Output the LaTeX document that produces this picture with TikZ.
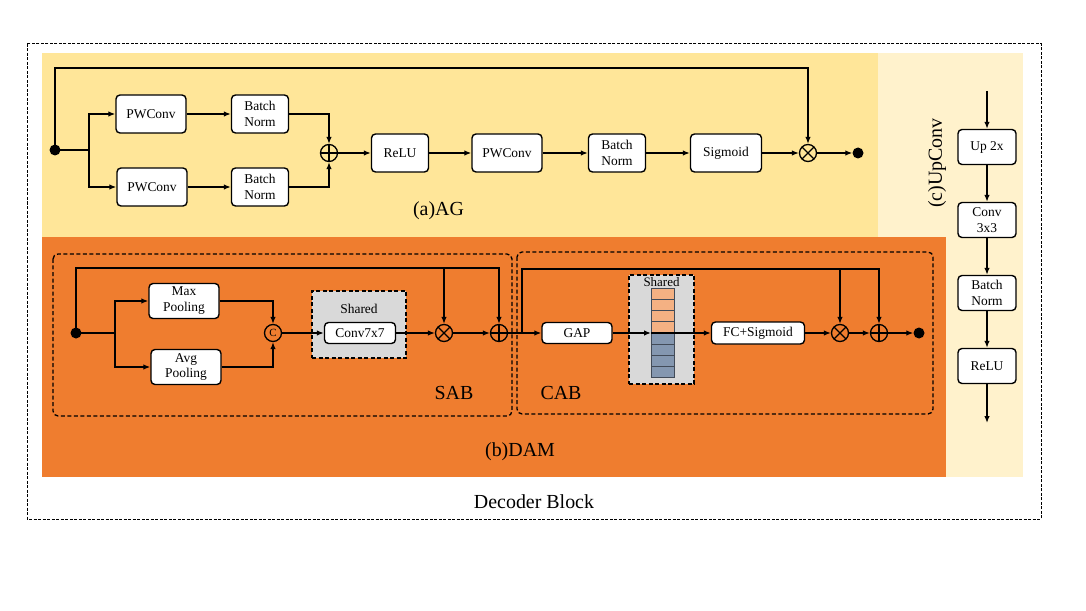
\documentclass[tikz,border=0pt]{standalone}
\usepackage{fontspec}
\setmainfont{Liberation Serif}
\usetikzlibrary{arrows.meta,calc}
\definecolor{agbg}{RGB}{255,230,153}
\definecolor{upbg}{RGB}{255,242,204}
\definecolor{dambg}{RGB}{239,125,47}
\definecolor{shgray}{RGB}{217,217,217}
\definecolor{cello}{RGB}{244,177,131}
\definecolor{cellb}{RGB}{132,151,176}
\begin{document}
\begin{tikzpicture}[x=1bp,y=-1bp,
  box/.style={draw, line width=1.4bp, rounded corners=4bp, fill=white, align=center,
    font=\fontsize{13.5}{16}\selectfont, inner sep=0pt},
  arr/.style={-{Latex[length=7bp,width=5.5bp]}, line width=1.3bp},
  ln/.style={line width=1.3bp},
  opl/.style={circle, draw, line width=1.3bp, minimum size=17bp, inner sep=0pt, fill=none,
    path picture={\draw[line width=1.3bp] (path picture bounding box.north) -- (path picture bounding box.south)
      (path picture bounding box.west) -- (path picture bounding box.east);}},
  otm/.style={circle, draw, line width=1.3bp, minimum size=17bp, inner sep=0pt, fill=none,
    path picture={\draw[line width=1.3bp] (path picture bounding box.north west) -- (path picture bounding box.south east)
      (path picture bounding box.south west) -- (path picture bounding box.north east);}},
  dot/.style={circle, fill=black, minimum size=11bp, inner sep=0pt},
  dbox/.style={draw, dashed, dash pattern=on 4bp off 2.5bp, line width=1.3bp, rounded corners=5bp},
  big/.style={font=\fontsize{20}{22}\selectfont},
]
\useasboundingbox (0,0) rectangle (1086,611);
% backgrounds
\fill[agbg] (42,53) rectangle (878,237);
\fill[upbg] (878,53) rectangle (1023,477);
\fill[dambg] (42,237) rectangle (946,477);
\draw[dashed, dash pattern=on 3bp off 1.5bp, line width=1bp] (27,44) rectangle (1041,519);

% ===== (a) AG =====
\node[dot] (a0) at (55,150) {};
\node[box, minimum width=70bp, minimum height=38bp] (pw1) at (151,114) {PWConv};
\node[box, minimum width=57bp, minimum height=38bp] (bn1) at (260,114) {Batch\\Norm};
\node[box, minimum width=70bp, minimum height=38bp] (pw2) at (152,187) {PWConv};
\node[box, minimum width=57bp, minimum height=38bp] (bn2) at (260,187) {Batch\\Norm};
\node[opl] (ap) at (329,153) {};
\node[box, minimum width=57bp, minimum height=38bp] (relu) at (400,153) {ReLU};
\node[box, minimum width=70bp, minimum height=38bp] (pw3) at (507,153) {PWConv};
\node[box, minimum width=57bp, minimum height=38bp] (bn3) at (617,153) {Batch\\Norm};
\node[box, minimum width=71bp, minimum height=38bp] (sig) at (726,153) {Sigmoid};
\node[otm] (am) at (808,153) {};
\node[dot] (a1) at (858,153) {};
\coordinate (asp) at (89,150);
\coordinate (atop) at (55,68);
\draw[ln] (a0.center) -- (asp);
\draw[arr] (asp) |- (pw1);
\draw[arr] (asp) |- (pw2);
\draw[arr] (pw1) -- (bn1);
\draw[arr] (pw2) -- (bn2);
\draw[arr] (bn1) -| (ap);
\draw[arr] (bn2) -| (ap);
\draw[arr] (ap) -- (relu);
\draw[arr] (relu) -- (pw3);
\draw[arr] (pw3) -- (bn3);
\draw[arr] (bn3) -- (sig);
\draw[arr] (sig) -- (am);
\draw[arr] (am) -- (a1);
\draw[arr] (a0.center) -- (atop) -| (am);
\node[big] (agl) at (438.5,211) {(a)AG};

% ===== (b) DAM : SAB =====
\draw[dbox] (53,254) rectangle (512,416);
\node[dot] (s0) at (76,333) {};
\node[box, minimum width=70bp, minimum height=35bp] (mp) at (184,301) {Max\\Pooling};
\node[box, minimum width=70bp, minimum height=35bp] (ap2) at (186,367) {Avg\\Pooling};
\node[circle, draw, line width=1.3bp, minimum size=17bp, inner sep=0pt, font=\fontsize{11}{12}\selectfont] (sc) at (273,333) {C};
\node[draw, dashed, dash pattern=on 4bp off 2.5bp, line width=1.3bp, fill=shgray, minimum width=94bp, minimum height=67bp, inner sep=0pt] (sh1) at (359,324.5) {};
\node[font=\fontsize{13.5}{15}\selectfont] (sh1l) at (359,309) {Shared};
\node[box, minimum width=71bp, minimum height=21bp] (c7) at (360,333) {Conv7x7};
\node[otm] (sm) at (444,333) {};
\node[opl] (sp) at (499,333) {};
\coordinate (ssp) at (115,333);
\coordinate (stop) at (76,268);
\coordinate (sbr) at (444,268);
\draw[ln] (s0.center) -- (ssp);
\draw[arr] (ssp) |- (mp);
\draw[arr] (ssp) |- (ap2);
\draw[arr] (mp) -| (sc);
\draw[arr] (ap2) -| (sc);
\draw[arr] (sc) -- (c7);
\draw[arr] (c7) -- (sm);
\draw[arr] (sm) -- (sp);
\draw[arr] (s0.center) -- (stop) -| (sp);
\draw[arr] (sbr) -- (sm);
\node[big] (sabl) at (454,393) {SAB};

% ===== CAB =====
\draw[dbox] (517,252) rectangle (933,414);
\node[box, minimum width=70bp, minimum height=21bp] (gap) at (577,333) {GAP};
\node[draw, dashed, dash pattern=on 4bp off 2.5bp, line width=1.3bp, fill=shgray, minimum width=65bp, minimum height=109bp, inner sep=0pt] (sh2) at (661.5,329.5) {};
\node[font=\fontsize{13}{14}\selectfont] (sh2l) at (661.5,282) {Shared};
\foreach \i in {0,...,3} {
  \node[draw=cellb!50!black, line width=0.9bp, fill=cello, minimum width=23bp, minimum height=11.1bp, inner sep=0pt] (co\i) at (662.5,{293.6+11.1*\i}) {};
  \node[draw=cellb!50!black, line width=0.9bp, fill=cellb, minimum width=23bp, minimum height=11.1bp, inner sep=0pt] (cb\i) at (662.5,{338.4+11.1*\i}) {};
}
\coordinate (cellw) at (651,333);
\node[box, minimum width=93bp, minimum height=22bp] (fc) at (758,333) {FC+Sigmoid};
\node[otm] (cm) at (840,333) {};
\node[opl] (cp) at (879,333) {};
\node[dot] (c1) at (919,333) {};
\coordinate (cst) at (522,333);
\coordinate (ctop) at (522,269);
\coordinate (cbr) at (840,269);
\draw[arr] (sp) -- (gap);
\draw[arr] (gap) -- (cellw);
\draw[arr] (cellw) -- (fc);
\draw[arr] (fc) -- (cm);
\draw[arr] (cm) -- (cp);
\draw[arr] (cp) -- (c1);
\draw[arr] (cst) -- (ctop) -| (cp);
\draw[arr] (cbr) -- (cm);
\node[big] (cabl) at (561,393) {CAB};
\node[big] (daml) at (520,452) {(b)DAM};

% ===== (c) UpConv =====
\node[box, minimum width=58bp, minimum height=35bp] (u1) at (987,147) {Up 2x};
\node[box, minimum width=58bp, minimum height=35bp] (u2) at (987,220) {Conv\\3x3};
\node[box, minimum width=58bp, minimum height=35bp] (u3) at (987,293) {Batch\\Norm};
\node[box, minimum width=58bp, minimum height=35bp] (u4) at (987,366) {ReLU};
\coordinate (uin) at (987,91);
\coordinate (uout) at (987,423);
\draw[arr] (uin) -- (u1);
\draw[arr] (u1) -- (u2);
\draw[arr] (u2) -- (u3);
\draw[arr] (u3) -- (u4);
\draw[arr] (u4) -- (uout);
\node[big, rotate=90] (upl) at (937,163) {(c)UpConv};

\node[big] (decl) at (534,502) {Decoder Block};
\end{tikzpicture}
\end{document}
